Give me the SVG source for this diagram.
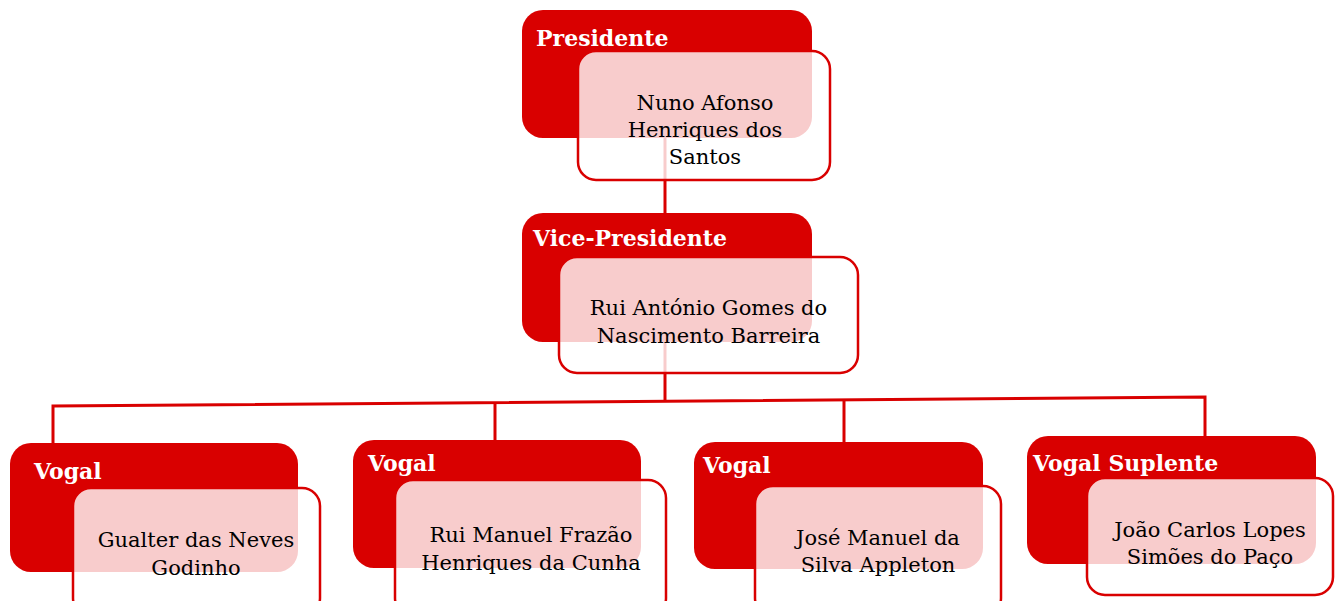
<svg xmlns="http://www.w3.org/2000/svg" width="1339" height="601" viewBox="0 0 1339 601">
<style>
.bg{fill:#ffffff}
.conn{fill:none;stroke:#D90000;stroke-width:3}
.role{fill:#D90000}
.card{fill:#ffffff;fill-opacity:0.8;stroke:#D90000;stroke-width:2.5}
.lbl{font-family:"DejaVu Serif","Liberation Serif",serif;font-weight:bold;font-size:22px;fill:#ffffff}
.nm{font-family:"DejaVu Serif","Liberation Serif",serif;font-size:21px;fill:#000000;text-anchor:middle}
</style>
<rect class="bg" x="0" y="0" width="1339" height="601"/>
<g id="connectors">
<line class="conn" x1="665" y1="100" x2="665" y2="214"/>
<line class="conn" x1="665" y1="300" x2="665" y2="401.2"/>
<polyline class="conn" points="53,443 53,406 1205,397 1205,437"/>
<line class="conn" x1="495" y1="402.5" x2="495" y2="441"/>
<line class="conn" x1="844" y1="399.8" x2="844" y2="442"/>
</g>
<g id="presidente">
<rect class="role" x="522" y="10" width="290" height="128" rx="21"/>
<text class="lbl" x="536" y="46">Presidente</text>
<rect class="card" x="578" y="51" width="252" height="129" rx="18"/>
<text class="nm" x="705" y="110">Nuno Afonso</text>
<text class="nm" x="705" y="137">Henriques dos</text>
<text class="nm" x="705" y="164">Santos</text>
</g>
<g id="vice-presidente">
<rect class="role" x="522" y="213" width="290" height="129" rx="21"/>
<text class="lbl" x="533" y="246">Vice-Presidente</text>
<rect class="card" x="559" y="257" width="299" height="116" rx="18"/>
<text class="nm" x="708.5" y="315">Rui António Gomes do</text>
<text class="nm" x="708.5" y="343">Nascimento Barreira</text>
</g>
<g id="vogal1">
<rect class="role" x="10" y="443" width="288" height="129" rx="21"/>
<text class="lbl" x="34" y="479">Vogal</text>
<rect class="card" x="73" y="488" width="247" height="128" rx="18"/>
<text class="nm" x="196" y="547">Gualter das Neves</text>
<text class="nm" x="196" y="575">Godinho</text>
</g>
<g id="vogal2">
<rect class="role" x="353" y="440" width="288" height="128" rx="21"/>
<text class="lbl" x="368" y="471">Vogal</text>
<rect class="card" x="395" y="480" width="271" height="136" rx="18"/>
<text class="nm" x="531" y="542">Rui Manuel Frazão</text>
<text class="nm" x="531" y="570">Henriques da Cunha</text>
</g>
<g id="vogal3">
<rect class="role" x="694" y="442" width="289" height="127" rx="21"/>
<text class="lbl" x="703" y="473">Vogal</text>
<rect class="card" x="755" y="486" width="246" height="130" rx="18"/>
<text class="nm" x="878" y="545">José Manuel da</text>
<text class="nm" x="878" y="572">Silva Appleton</text>
</g>
<g id="vogal-suplente">
<rect class="role" x="1027" y="436" width="289" height="128" rx="21"/>
<text class="lbl" x="1033" y="471">Vogal Suplente</text>
<rect class="card" x="1087" y="478" width="246" height="117" rx="18"/>
<text class="nm" x="1210" y="537">João Carlos Lopes</text>
<text class="nm" x="1210" y="564">Simões do Paço</text>
</g>
</svg>
